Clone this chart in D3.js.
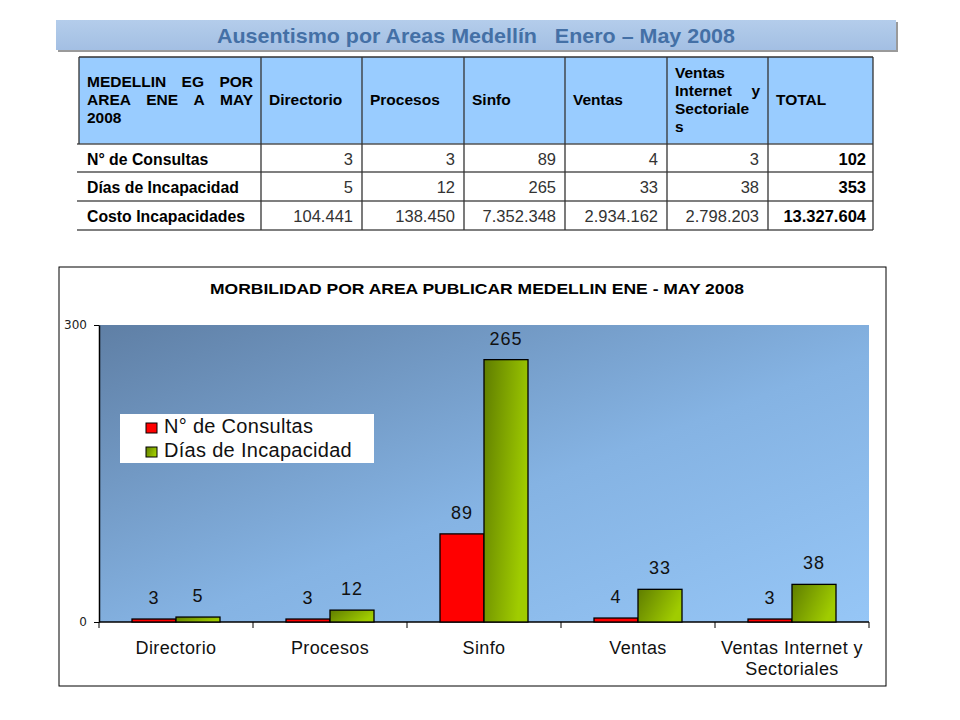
<!DOCTYPE html>
<html>
<head>
<meta charset="utf-8">
<script src="https://cdn.jsdelivr.net/npm/d3@7"></script>
<style>
  body { margin: 0; background: #fff; }
  svg { display: block; font-family: "Liberation Sans", Arial, sans-serif; }
</style>
</head>
<body>
<div id="chart"></div>
<script>
// data
const areas = ["Directorio", "Procesos", "Sinfo", "Ventas", "Ventas Internet y Sectoriales"];
const consultas = [3, 3, 89, 4, 3];
const dias = [5, 12, 265, 33, 38];
const costo = [104441, 138450, 7352348, 2934162, 2798203];
const rowNames = ["N° de Consultas", "Días de Incapacidad", "Costo Incapacidades"];
const headLines = [
  ["MEDELLIN EG POR", "AREA ENE A MAY", "2008"],
  ["Directorio"], ["Procesos"], ["Sinfo"], ["Ventas"],
  ["Ventas", "Internet y", "Sectoriale", "s"],
  ["TOTAL"]
];
const xLabelLines = [["Directorio"], ["Procesos"], ["Sinfo"], ["Ventas"], ["Ventas Internet y", "Sectoriales"]];
const yTicks = [0, 300];
const pageTitle = "Ausentismo por Areas Medellín   Enero \u2013 May 2008";
const chartTitle = "MORBILIDAD POR AREA PUBLICAR MEDELLIN ENE - MAY 2008";

const W = 960, H = 720;
const svg = d3.select("#chart").append("svg").attr("width", W).attr("height", H);
const defs = svg.append("defs");

const locale = d3.formatLocale({decimal: ",", thousands: ".", grouping: [3], currency: ["", ""]});
const fmt = locale.format(",d");

// ---------- banner title
const bannerG = defs.append("linearGradient").attr("id", "bannerG").attr("x1", 0).attr("y1", 0).attr("x2", 0).attr("y2", 1);
bannerG.append("stop").attr("offset", 0).attr("stop-color", "#b4cdeb");
bannerG.append("stop").attr("offset", 1).attr("stop-color", "#a3bfe3");

svg.append("rect").attr("x", 58).attr("y", 22).attr("width", 840).attr("height", 30).attr("fill", "#9a9a9a");
svg.append("rect").attr("x", 56).attr("y", 20).attr("width", 840).attr("height", 30).attr("fill", "url(#bannerG)");
svg.append("text")
  .attr("x", 476).attr("y", 43)
  .attr("text-anchor", "middle")
  .attr("font-size", 21).attr("font-weight", "bold")
  .attr("fill", "#4470a6")
  .style("white-space", "pre")
  .attr("textLength", 518).attr("lengthAdjust", "spacingAndGlyphs")
  .text(pageTitle);

// ---------- table
const colX = [79, 261, 362, 464, 565, 667, 768, 873];
const rowY = [57, 144, 172, 201, 230];
const table = svg.append("g").attr("class", "table");

table.append("rect").attr("x", colX[0]).attr("y", rowY[0])
  .attr("width", colX[7] - colX[0]).attr("height", rowY[1] - rowY[0])
  .attr("fill", "#99ccff");

function boldText(g, xx, yy, str, size) {
  return g.append("text").attr("x", xx).attr("y", yy)
    .attr("font-size", size || 15.5).attr("font-weight", "bold").text(str);
}

// justified header lines
headLines.forEach((lines, ci) => {
  const x0 = colX[ci] + 8, w = colX[ci + 1] - colX[ci] - 16;
  const lh = 18;
  const cy = (rowY[0] + rowY[1]) / 2;
  const top = cy - (lines.length - 1) * lh / 2;
  lines.forEach((line, li) => {
    const yy = top + li * lh + 4.5;
    const words = line.split(" ");
    const last = li === lines.length - 1 && lines.length > 1;
    if (words.length === 1 || last) {
      boldText(table, x0, yy, line);
      return;
    }
    const nodes = words.map(wd => boldText(table, 0, yy, wd));
    const widths = nodes.map(n => n.node().getComputedTextLength());
    const gap = (w - d3.sum(widths)) / (words.length - 1);
    let cx = x0;
    nodes.forEach((n, i) => { n.attr("x", cx); cx += widths[i] + gap; });
  });
});

const rows = [consultas, dias, costo];
rows.forEach((vals, ri) => {
  const yy = (rowY[ri + 1] + rowY[ri + 2]) / 2 + 6.5;
  boldText(table, colX[0] + 8, yy, rowNames[ri], 15.8);
  vals.concat([d3.sum(vals)]).forEach((v, vi) => {
    const isTotal = vi === vals.length;
    table.append("text")
      .attr("x", colX[vi + 2] - (isTotal ? 7 : 9)).attr("y", yy)
      .attr("text-anchor", "end")
      .attr("font-size", 16.5)
      .attr("font-weight", isTotal ? "bold" : "normal")
      .attr("fill", isTotal ? "#000" : "#333")
      .text(fmt(v));
  });
});

// grid lines
table.append("line").attr("x1", colX[0]).attr("x2", colX[7]).attr("y1", rowY[0]).attr("y2", rowY[0])
  .attr("stroke", "#333").attr("stroke-width", 1.3);
rowY.slice(1).forEach(yy => {
  table.append("line").attr("x1", colX[0] - 2).attr("x2", colX[7]).attr("y1", yy).attr("y2", yy)
    .attr("stroke", "#555").attr("stroke-width", 1.5);
});
table.append("line").attr("x1", colX[0]).attr("x2", colX[0]).attr("y1", rowY[0]).attr("y2", rowY[1])
  .attr("stroke", "#333").attr("stroke-width", 1.3);
colX.slice(1).forEach(xx => {
  table.append("line").attr("x1", xx).attr("x2", xx).attr("y1", rowY[0]).attr("y2", rowY[4])
    .attr("stroke", "#333").attr("stroke-width", 1.3);
});

// ---------- bar chart
const frame = {x: 59, y: 267, w: 827, h: 419};
const plot = {left: 99, right: 869, top: 325, bottom: 622};

svg.append("rect").attr("x", frame.x).attr("y", frame.y).attr("width", frame.w).attr("height", frame.h)
  .attr("fill", "#fff").attr("stroke", "#000").attr("stroke-width", 1);

svg.append("text").attr("x", 477).attr("y", 294)
  .attr("text-anchor", "middle").attr("font-size", 15).attr("font-weight", "bold")
  .attr("textLength", 534).attr("lengthAdjust", "spacingAndGlyphs")
  .text(chartTitle);

const bgG = defs.append("linearGradient").attr("id", "plotBg").attr("x1", 0).attr("y1", 0).attr("x2", 1).attr("y2", 1);
bgG.append("stop").attr("offset", 0).attr("stop-color", "#5f7fa5");
bgG.append("stop").attr("offset", 0.55).attr("stop-color", "#85b3e3");
bgG.append("stop").attr("offset", 1).attr("stop-color", "#96c6f6");

const greenG = defs.append("linearGradient").attr("id", "greenG").attr("x1", 0).attr("y1", 0).attr("x2", 1).attr("y2", 0.4);
greenG.append("stop").attr("offset", 0).attr("stop-color", "#5f7d00");
greenG.append("stop").attr("offset", 1).attr("stop-color", "#a0cc00");

const x = d3.scaleBand().domain(areas).range([plot.left, plot.right]);
const xs = d3.scaleBand().domain(["c", "d"]).range([0, x.bandwidth()]).paddingOuter(0.75);
const y = d3.scaleLinear().domain([0, 300]).range([plot.bottom, plot.top]);

svg.append("rect").attr("x", plot.left).attr("y", plot.top)
  .attr("width", plot.right - plot.left).attr("height", plot.bottom - plot.top)
  .attr("fill", "url(#plotBg)");

const yAxis = svg.append("g").attr("transform", `translate(${plot.left},0)`)
  .call(d3.axisLeft(y).tickValues(yTicks).tickSize(5).tickSizeOuter(0));
yAxis.select(".domain").attr("stroke", "#000").attr("stroke-width", 1.5);
yAxis.selectAll(".tick text").attr("font-size", 12).attr("fill", "#222")
  .attr("font-family", "'DejaVu Sans', sans-serif").attr("x", -12);

// x axis with ticks on category boundaries
const xb = svg.append("g").attr("transform", `translate(0,${plot.bottom})`);
xb.append("line").attr("x1", plot.left).attr("x2", plot.right).attr("stroke", "#000").attr("stroke-width", 1.5);
const bounds = areas.map(a => x(a)).concat([plot.right]);
xb.selectAll(".btick").data(bounds).join("line").attr("class", "btick")
  .attr("x1", d => d).attr("x2", d => d).attr("y1", 0).attr("y2", 6).attr("stroke", "#000");

const xl = svg.append("g").selectAll("text").data(areas).join("text")
  .attr("x", d => x(d) + x.bandwidth() / 2)
  .attr("y", 654)
  .attr("text-anchor", "middle").attr("font-size", 18).attr("letter-spacing", 0.4).attr("fill", "#111");
xl.each(function(d, i) {
  d3.select(this).selectAll("tspan").data(xLabelLines[i]).join("tspan")
    .attr("x", x(d) + x.bandwidth() / 2).attr("dy", (t, j) => j === 0 ? 0 : 21).text(t => t);
});

// bars
const series = [
  {key: "c", values: consultas, fill: "#ff0000"},
  {key: "d", values: dias, fill: "url(#greenG)"}
];
const bars = svg.append("g");
series.forEach(s => {
  bars.selectAll(".bar-" + s.key).data(areas).join("rect").attr("class", "bar-" + s.key)
    .attr("x", (d) => x(d) + xs(s.key))
    .attr("width", xs.bandwidth())
    .attr("y", (d, i) => y(s.values[i]))
    .attr("height", (d, i) => y(0) - y(s.values[i]))
    .attr("fill", s.fill).attr("stroke", "#000").attr("stroke-width", 1.3);
  bars.selectAll(".lab-" + s.key).data(areas).join("text").attr("class", "lab-" + s.key)
    .attr("x", (d) => x(d) + xs(s.key) + xs.bandwidth() / 2)
    .attr("y", (d, i) => y(s.values[i]) - 15)
    .attr("text-anchor", "middle").attr("font-size", 18).attr("letter-spacing", 1).attr("fill", "#111")
    .text((d, i) => s.values[i]);
});

// legend
const lg = svg.append("g").attr("transform", "translate(120,414)");
lg.append("rect").attr("width", 254).attr("height", 49).attr("fill", "#fff");
rowNames.slice(0, 2).forEach((name, i) => {
  lg.append("rect").attr("x", 26).attr("y", 9 + i * 24).attr("width", 11).attr("height", 10)
    .attr("fill", series[i].key === "c" ? "#ff0000" : "url(#greenG)").attr("stroke", "#000").attr("stroke-width", 1);
  lg.append("text").attr("x", 44).attr("y", 19 + i * 24)
    .attr("font-size", 20).attr("letter-spacing", 0.3).attr("fill", "#111").text(name);
});
</script>
</body>
</html>
